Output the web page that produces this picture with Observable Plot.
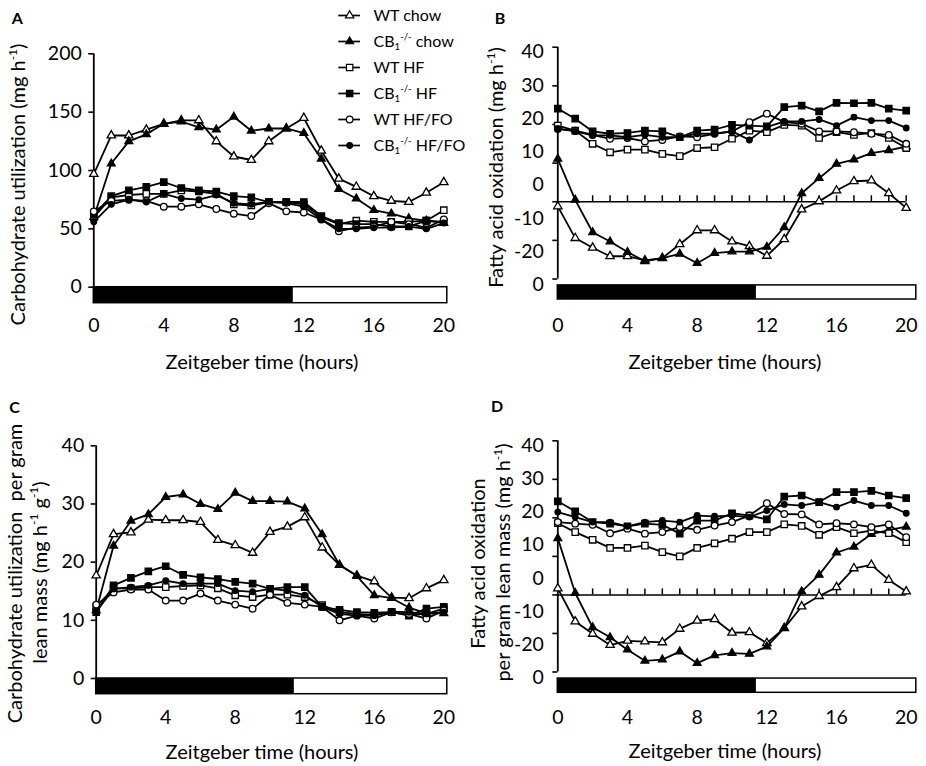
<!DOCTYPE html>
<html><head><meta charset="utf-8">
<script src="https://cdn.jsdelivr.net/npm/d3@7"></script>
<script src="https://cdn.jsdelivr.net/npm/@observablehq/plot@0.6"></script>
<style>
body{margin:0;background:#fff;}
#fig{position:relative;width:926px;height:766px;overflow:hidden;background:#fff;}
#fig > svg{position:absolute;}
</style></head><body><div id="fig"></div>
<script>
// ---------- data ----------
const hours = [0,1,2,3,4,5,6,7,8,9,10,11,12,13,14,15,16,17,18,19,20];
const seriesNames = ["WT chow","CB_{1}^{-/-} chow","WT HF","CB_{1}^{-/-} HF","WT HF/FO","CB_{1}^{-/-} HF/FO"];
const darkPhase = [0, 11.4];            // dark bar (ZT hours)
const xTicks = [0,4,8,12,16,20];

// Panel A: carbohydrate utilization (mg h-1)
const aWtChow = [97,130,130,135,140,143,143,125,112,109,125,136,145,117,93,86,78,74,73,81,90];
const aCbChow = [60,106,125,131,140,142,137,135,146,134,136,136,132,110,84,76,66,63,59,57,55];
const aWtHf   = [60,77,79,80,80,83,82,80,71,70,73,73,71,60,54,57,56,56,56,57,66];
const aCbHf   = [62,78,83,86,90,85,83,82,78,77,73,73,73,61,55,54,54,52,52,57,56];
const aWtFo   = [65,74,75,74,69,69,71,67,63,61,72,65,64,58,48,51,52,56,54,51,58];
const aCbFo   = [56,71,75,73,80,76,75,79,72,71,73,72,69,58,50,50,51,51,52,50,55];
const aTicks  = [0,50,100,150,200];

// Panel B: fatty acid oxidation (mg h-1)
const bWtChow = [-1.2,-9.4,-11.9,-14.1,-14.1,-15.2,-14.6,-11.0,-7.4,-7.4,-10.3,-11.5,-14.0,-9.7,-2.0,0.1,2.9,5.3,5.5,2.2,-1.6];
const bCbChow = [11.1,0.5,-7.9,-10.3,-13.0,-15.4,-14.6,-13.5,-15.9,-13.3,-12.9,-12.9,-11.7,-6.6,2.2,6.1,9.8,10.9,12.6,13.3,14.3];
const bWtHf   = [19.7,18.4,15.0,12.8,13.5,13.5,12.4,11.8,13.9,14.1,16.3,18.4,18.0,19.9,19.7,16.5,18.0,17.3,17.8,16.5,13.9];
const bCbHf   = [24.1,21.5,18.2,17.6,17.8,18.4,18.2,16.7,18.4,18.7,19.9,19.7,19.5,24.5,24.9,23.4,25.6,25.5,25.6,24.1,23.6];
const bWtFo   = [18.8,18.4,17.3,16.3,16.5,15.6,16.0,16.9,16.7,17.6,18.2,20.6,22.8,20.6,20.2,18.2,18.2,18.0,17.6,17.3,15.0];
const bCbFo   = [18.9,18.2,17.2,17.2,16.7,17.3,16.7,16.7,17.6,17.6,18.2,16.0,19.3,20.8,20.8,21.3,19.7,21.9,21.0,21.0,19.1];

// Panel C: carbohydrate utilization per gram lean mass
const cWtChow = [17.7,24.8,25.1,27.3,27.2,27.2,26.9,23.8,22.9,21.6,25.2,26.1,27.7,22.5,19.5,17.7,16.7,13.9,13.8,15.5,16.9];
const cCbChow = [11.7,22.8,27.1,28.2,31.2,31.6,30.0,29.1,31.9,30.5,30.5,30.4,29.2,24.8,19.5,17.6,14.3,13.8,12.2,11.2,11.2];
const cWtHf   = [12.3,15.5,15.5,15.7,15.7,15.9,16.0,15.5,14.3,14.0,14.4,14.4,14.0,12.6,11.4,11.1,10.9,11.4,10.9,11.1,12.0];
const cCbHf   = [11.4,16.0,17.3,18.4,19.3,17.8,17.4,17.1,16.6,16.3,15.4,15.7,15.7,12.3,11.8,11.4,11.3,11.4,10.8,12.0,12.3];
const cWtFo   = [12.7,14.8,15.3,15.3,13.4,13.4,14.6,13.4,12.7,12.0,14.4,13.0,12.7,12.3,10.0,10.8,10.3,11.4,11.1,10.3,11.7];
const cCbFo   = [11.5,15.4,15.7,16.0,16.8,16.3,16.3,16.3,15.1,14.9,15.4,15.1,14.3,12.3,11.1,10.8,10.8,11.5,11.4,11.1,11.4];
const cTicks  = [0,10,20,30,40];

// Panel D: fatty acid oxidation per gram lean mass
const dWtChow = [1.7,-6.9,-10.1,-13.0,-11.9,-12.1,-12.3,-8.8,-6.7,-6.3,-9.8,-9.7,-12.5,-8.6,-3.0,-0.3,2.0,6.9,7.8,3.9,0.9];
const dCbChow = [14.7,0.5,-8.4,-11.0,-14.2,-17.1,-16.8,-14.7,-17.7,-15.7,-15.1,-15.3,-13.4,-8.6,0.9,5.2,11.0,12.5,15.8,16.8,17.7];
const dWtHf   = [18.6,16.3,14.3,12.2,12.2,12.8,11.1,10.0,12.2,13.4,14.6,16.3,16.3,18.3,17.9,15.6,17.6,16.0,16.7,16.0,13.7];
const dCbHf   = [24.3,21.7,18.9,18.5,17.8,18.5,18.2,15.9,19.3,19.3,21.2,20.6,19.6,25.5,25.8,24.1,26.7,26.7,27.0,25.8,25.1];
const dWtFo   = [18.9,18.5,18.2,16.0,17.2,15.9,16.3,17.6,16.9,18.0,18.9,20.6,23.8,21.0,20.9,18.3,18.6,18.3,17.6,18.3,15.0];
const dCbFo   = [21.5,20.2,18.9,18.9,17.8,18.9,19.3,18.9,20.6,20.4,20.6,20.2,21.9,23.5,23.2,24.1,22.8,24.5,23.2,23.2,21.2];

// B/D tick grid and the printed tick-label column (as in the original figure)
const faoTicks = [-20,-10,0,10,20,30,40];
const faoTickLabels = ["40","30","20","10","0","-10","-20","0"];

// ---------- styles ----------
const seriesStyle = [
  {symbol:"triangle", fill:"white", r:3.1},
  {symbol:"triangle", fill:"black", r:2.9},
  {symbol:"square",   fill:"white", r:3.6},
  {symbol:"square",   fill:"black", r:3.6},
  {symbol:"circle",   fill:"white", r:3.3},
  {symbol:"circle",   fill:"black", r:2.8}
];
const FONT = "Lato, 'DejaVu Sans', sans-serif";
const TICK_FS = 19.5, TITLE_FS = 20, LEGEND_FS = 16;

const panels = [
  {letter:"A", left:0, top:0, series:[aWtChow,aCbChow,aWtHf,aCbHf,aWtFo,aCbFo],
   mL:93.3, mR:19.7, mT:53.3, mB:80.3, yDomain:[-13.7,200], ticks:aTicks, axisSpan:[0,200],
   bar:[-13.7,0], barEnd:20.2, zero:false, xPad:15, letterPos:[16.7,18],
   yTitle:["Carbohydrate utilization (mg h^{-1})"], yTitlePos:[[18.3,184]], xTitleY:362},
  {letter:"B", left:463, top:0, series:[bWtChow,bCbChow,bWtHf,bCbHf,bWtFo,bCbFo],
   mL:94.3, mR:20.3, mT:46.7, mB:84, yDomain:[-25.3,40], ticks:faoTicks, axisSpan:[-20,40],
   bar:[-25.3,-21.65], barEnd:20.58, zero:true, xPad:19, letterPos:[36.5,18],
   yTitle:["Fatty acid oxidation (mg h^{-1})"], yTitlePos:[[33.5,167]], xTitleY:362},
  {letter:"C", left:0, top:383, series:[cWtChow,cCbChow,cWtHf,cCbHf,cWtFo,cCbFo],
   mL:95.7, mR:19.7, mT:62.3, mB:72.3, yDomain:[-2.7,40], ticks:cTicks, axisSpan:[0,40],
   bar:[-2.7,0], barEnd:20.2, zero:false, xPad:15.5, letterPos:[14,24],
   yTitle:["Carbohydrate utilization  per gram","lean mass (mg h^{-1} g^{-1})"], yTitlePos:[[15,190],[40,189]], xTitleY:369},
  {letter:"D", left:463, top:383, series:[dWtChow,dCbChow,dWtHf,dCbHf,dWtFo,dCbFo],
   mL:94.3, mR:20.3, mT:57.3, mB:73.7, yDomain:[-25.4,40], ticks:faoTicks, axisSpan:[-20,40],
   bar:[-25.4,-21.7], barEnd:20.58, zero:true, xPad:17, letterPos:[33.5,23],
   yTitle:["Fatty acid oxidation","per gram lean mass (mg h^{-1})"], yTitlePos:[[15,180],[40,179]], xTitleY:368}
];

function note(p, txt, px, py, opts = {}) {
  return Plot.text([txt], {frameAnchor:"top-left", lineAnchor:"middle", dx: px - p.mL, dy: py - p.mT, text: d => d,
    fill:"black", fontSize:TITLE_FS, ...opts});
}

function richify(svg) {
  const NS = "http://www.w3.org/2000/svg";
  svg.querySelectorAll("text").forEach(t => {
    const s = t.textContent;
    if (!/[\^_]\{/.test(s)) return;
    let fs = parseFloat(t.getAttribute("font-size"));
    if (!fs) { const g = t.closest("[font-size]"); fs = g ? parseFloat(g.getAttribute("font-size")) : 16; }
    while (t.firstChild) t.removeChild(t.firstChild);
    const re = /([\^_])\{([^}]*)\}/g;
    let last = 0, m, shift = 0;
    const add = (txt, kind) => {
      const ts = document.createElementNS(NS, "tspan");
      ts.textContent = txt;
      const target = kind === "^" ? -0.42 * fs : kind === "_" ? 0.22 * fs : 0;
      const d = target - shift;
      if (Math.abs(d) > 1e-6) ts.setAttribute("dy", d.toFixed(2));
      shift = target;
      if (kind) ts.setAttribute("font-size", (0.6 * fs).toFixed(1));
      t.appendChild(ts);
    };
    while ((m = re.exec(s))) {
      if (m.index > last) add(s.slice(last, m.index), null);
      add(m[2], m[1]);
      last = re.lastIndex;
    }
    if (last < s.length) add(s.slice(last), null);
  });
}

const fig = document.getElementById("fig");

for (const p of panels) {
  const marks = [];
  const pxPerUnit = (383 - p.mT - p.mB) / (p.yDomain[1] - p.yDomain[0]);
  const tickLen = 6 / pxPerUnit; // 6px upward hour ticks on the zero line
  // light/dark bar
  marks.push(Plot.rect([p], {x1: () => 0, x2: d => d.barEnd, y1: d => d.bar[0], y2: d => d.bar[1],
    fill:"white", stroke:"black", strokeWidth:1.5}));
  marks.push(Plot.rect([darkPhase], {x1: d => d[0], x2: d => d[1], y1: () => p.bar[0], y2: () => p.bar[1],
    fill:"black"}));
  // y axis line + ticks
  marks.push(Plot.ruleX([0], {x: d => d, y1: () => p.axisSpan[0], y2: () => p.axisSpan[1], strokeWidth:1.8}));
  marks.push(Plot.axisY({ticks: p.ticks, tickSize:5, tickPadding:7, strokeWidth:1.6, fontSize:TICK_FS,
    label:null, tickFormat: p.zero ? () => "" : d => String(d)}));
  if (p.zero) {
    marks.push(Plot.ruleY([0], {y: d => d, x1: () => 0, x2: () => 20, strokeWidth:1.6}));
    marks.push(Plot.ruleX(hours.slice(1), {x: d => d, y1: () => 0, y2: () => tickLen, stroke:"black", strokeWidth:1.5}));
    marks.push(Plot.text(faoTickLabels, {x: () => 0, y: (d, i) => 38.7 - i * 8.6, text: d => d,
      textAnchor:"end", dx:-14, fontSize:TICK_FS, fill:"black"}));
  }
  // series
  p.series.forEach((vals, s) => {
    const rows = hours.map((h, i) => ({h, v: vals[i]}));
    const st = seriesStyle[s];
    marks.push(Plot.line(rows, {x:"h", y:"v", stroke:"black", strokeWidth:1.8}));
    marks.push(Plot.dot(rows, {x:"h", y:"v", symbol: st.symbol, r: st.r, fill: st.fill, stroke:"black", strokeWidth:1.3}));
  });
  // x axis labels
  marks.push(Plot.axisX({ticks: xTicks, tickSize:0, tickPadding:p.xPad, fontSize:TICK_FS, label:null}));
  // titles
  marks.push(note(p, "Zeitgeber time (hours)", 261.5, p.xTitleY, {textAnchor:"middle"}));
  p.yTitle.forEach((t, i) => marks.push(note(p, t, p.yTitlePos[i][0], p.yTitlePos[i][1], {rotate:-90, textAnchor:"middle"})));
  marks.push(note(p, p.letter, p.letterPos[0], p.letterPos[1], {fontWeight:"bold", fontSize:16, textAnchor:"middle"}));

  const svg = Plot.plot({
    width:463, height:383,
    marginLeft:p.mL, marginRight:p.mR, marginTop:p.mT, marginBottom:p.mB,
    x:{domain:[0,20]}, y:{domain:p.yDomain},
    style:{fontFamily:FONT, fontSize:TICK_FS + "px", color:"black", background:"white", overflow:"visible"},
    marks
  });
  svg.style.left = p.left + "px";
  svg.style.top = p.top + "px";
  richify(svg);
  fig.appendChild(svg);
}

// legend (overlaid on panel A)
const legendMarks = [];
seriesNames.forEach((name, s) => {
  const st = seriesStyle[s];
  legendMarks.push(Plot.ruleY([name], {y: d => d, x1: () => 0, x2: () => 1, stroke:"black", strokeWidth:1.7}));
  legendMarks.push(Plot.dot([name], {x: () => 0.5, y: d => d, symbol: st.symbol, r: st.r, fill: st.fill, stroke:"black", strokeWidth:1.2}));
  legendMarks.push(Plot.text([name], {x: () => 1, y: d => d, dx:13, text: d => d, textAnchor:"start", fontSize:LEGEND_FS, fill:"black"}));
});
const legend = Plot.plot({
  width:463, height:165, margin:0,
  x:{domain:[0,1], range:[338.3,360], axis:null},
  y:{type:"point", domain:seriesNames, range:[13.3,146.7], padding:0, axis:null},
  style:{fontFamily:FONT, fontSize:LEGEND_FS + "px", background:"transparent", overflow:"visible"},
  marks: legendMarks
});
legend.style.left = "0px"; legend.style.top = "0px";
richify(legend);
fig.appendChild(legend);
</script></body></html>
